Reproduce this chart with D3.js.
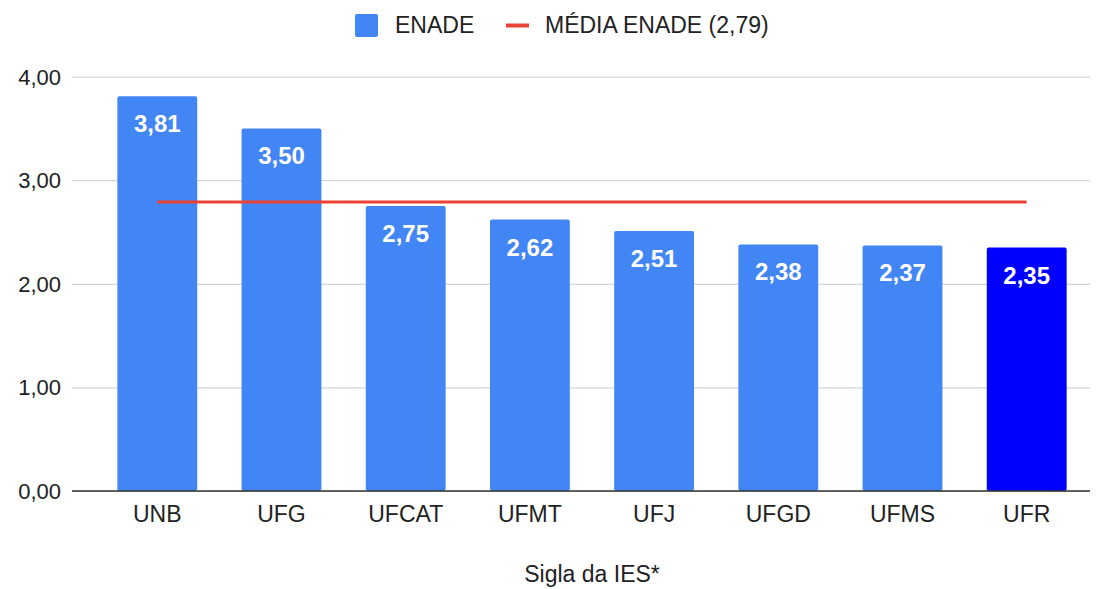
<!DOCTYPE html>
<html>
<head>
<meta charset="utf-8">
<script src="https://cdn.jsdelivr.net/npm/d3@7"></script>
<style>
  body { margin: 0; background: #fff; }
  svg { display: block; font-family: "Liberation Sans", Arial, sans-serif; }
</style>
</head>
<body>
<div id="chart"></div>
<script>
const categories = ["UNB", "UFG", "UFCAT", "UFMT", "UFJ", "UFGD", "UFMS", "UFR"];
const values = [3.81, 3.50, 2.75, 2.62, 2.51, 2.38, 2.37, 2.35];
const highlight = ["UFR"];
const average = 2.79;
const yTicks = [0, 1, 2, 3, 4];

const W = 1104, H = 589;
const FONT = '"Liberation Sans", Arial, sans-serif';
const COLOR = { bar: "#4285F4", hi: "#0000FF", avg: "#EA4335", grid: "#cccccc", base: "#333333", ink: "#222222" };
const fmt = (v) => d3.format(".2f")(v).replace(".", ",");

const svg = d3.select("#chart").append("svg").attr("width", W).attr("height", H);

const x = d3.scaleBand().domain(categories).range([95, 1089]).paddingInner(0.357).paddingOuter(0.18);
const y = d3.scaleLinear().domain([0, 4]).range([491, 76.6]);

// grid + y labels
svg.append("g").attr("transform", "translate(72,0)")
  .call(d3.axisLeft(y).tickValues(yTicks).tickSize(-(1090 - 72)).tickFormat(fmt))
  .call((g) => g.select(".domain").remove())
  .call((g) => g.selectAll(".tick line").attr("stroke", COLOR.grid).attr("stroke-width", 1))
  .call((g) => g.selectAll(".tick text").attr("x", -11).attr("dy", "0.34em").attr("fill", COLOR.ink)
    .style("font-size", "22px").style("font-family", FONT));

// bars
svg.append("g").selectAll("rect").data(categories).join("rect")
  .attr("x", (d) => x(d)).attr("width", x.bandwidth())
  .attr("y", (d, i) => y(values[i])).attr("height", (d, i) => y(0) - y(values[i]))
  .attr("rx", 2)
  .attr("fill", (d) => highlight.includes(d) ? COLOR.hi : COLOR.bar);

// baseline
svg.append("line").attr("x1", 72).attr("x2", 1090).attr("y1", y(0)).attr("y2", y(0))
  .attr("stroke", COLOR.base).attr("stroke-width", 1.5);

// value labels
svg.append("g").selectAll("text").data(categories).join("text")
  .attr("x", (d) => x(d) + x.bandwidth() / 2)
  .attr("y", (d, i) => y(values[i]) + 36)
  .attr("text-anchor", "middle").attr("fill", "#fff")
  .style("font-size", "24px").style("font-weight", "bold")
  .text((d, i) => fmt(values[i]));

// average line
svg.append("line")
  .attr("x1", x(categories[0]) + x.bandwidth() / 2)
  .attr("x2", x(categories[categories.length - 1]) + x.bandwidth() / 2)
  .attr("y1", y(average)).attr("y2", y(average))
  .attr("stroke", COLOR.avg).attr("stroke-width", 3);

// x axis labels
svg.append("g").attr("transform", `translate(0,${y(0)})`)
  .call(d3.axisBottom(x).tickSize(0).tickPadding(14))
  .call((g) => g.select(".domain").remove())
  .call((g) => g.selectAll(".tick text").attr("dy", null).attr("y", 31).attr("fill", COLOR.ink)
    .style("font-size", "23px").style("font-family", FONT));

// axis title
svg.append("text").attr("x", 592).attr("y", 582).attr("text-anchor", "middle")
  .attr("fill", COLOR.ink).style("font-size", "23px").text("Sigla da IES*");

// legend
const lg = svg.append("g");
lg.append("rect").attr("x", 355).attr("y", 14).attr("width", 23).attr("height", 23).attr("rx", 2).attr("fill", COLOR.bar);
lg.append("text").attr("x", 395).attr("y", 33).attr("fill", COLOR.ink).style("font-size", "23px").text("ENADE");
lg.append("line").attr("x1", 506).attr("x2", 529).attr("y1", 25.5).attr("y2", 25.5).attr("stroke", COLOR.avg).attr("stroke-width", 4);
lg.append("text").attr("x", 545).attr("y", 33).attr("fill", COLOR.ink).style("font-size", "23px").text(`MÉDIA ENADE (${fmt(average)})`);
</script>
</body>
</html>
